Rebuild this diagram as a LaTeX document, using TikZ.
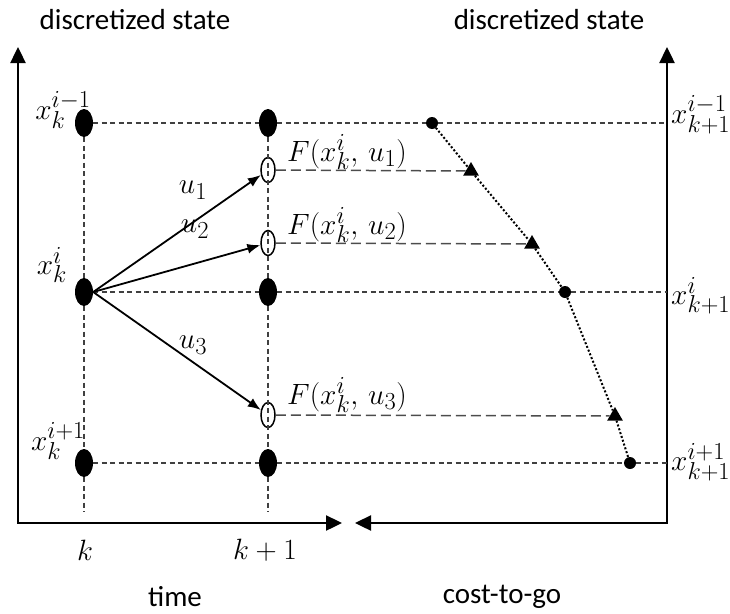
\documentclass[tikz,border=0pt]{standalone}
\usepackage{fontspec}
\setmainfont{Carlito}
\usetikzlibrary{arrows.meta,shapes.geometric}
\newcommand{\mathlbl}[1]{\scalebox{1.18}{$#1$}}
\begin{document}
\begin{tikzpicture}[x=1pt,y=-1pt,
  tlab/.style={font=\fontsize{29}{34}\selectfont, inner sep=0pt},
  mlab/.style={font=\fontsize{24.88}{30}\selectfont, inner sep=0pt},
  fullpt/.style={ellipse, fill=black, minimum width=18pt, minimum height=28pt, inner sep=0pt},
  openpt/.style={ellipse, draw=black, line width=1.5pt, minimum width=14pt, minimum height=25pt, inner sep=0pt},
  costpt/.style={circle, fill=black, minimum size=12pt, inner sep=0pt},
  tripoint/.style={regular polygon, regular polygon sides=3, fill=black, minimum size=18pt, inner sep=0pt},
  axisline/.style={line width=2.4pt, {Triangle[length=16pt,width=15pt]}-{Triangle[length=16pt,width=15pt]}},
  grid/.style={dash pattern=on 5pt off 3.5pt, line width=1.2pt, black!75},
  fline/.style={dash pattern=on 10pt off 5pt, line width=1.5pt, black!70},
  ctg/.style={line width=2pt, dash pattern=on 2pt off 2pt},
  uarrow/.style={line width=1.8pt, -{Latex[length=13pt,width=10pt]}}
]
\useasboundingbox (0,0) rectangle (730,613);
% axes coordinates
\coordinate (LT) at (18,47);
\coordinate (LO) at (18,523);
\coordinate (XT) at (342,523);
\coordinate (RT) at (667,47);
\coordinate (RO) at (667,523);
\coordinate (XT2) at (355,523);
\draw[axisline] (LT) -- (LO) -- (XT);
\draw[axisline] (RT) -- (RO) -- (XT2);
% grid points
\node[fullpt] (A1) at (84,123) {};
\node[fullpt] (A2) at (84,292) {};
\node[fullpt] (A3) at (84,463) {};
\node[fullpt] (B1) at (268,123) {};
\node[fullpt] (B2) at (268,292) {};
\node[fullpt] (B3) at (268,463) {};
\node[openpt] (O1) at (268,170) {};
\node[openpt] (O2) at (268,243) {};
\node[openpt] (O3) at (268,415) {};
\node[costpt] (D1) at (432,123) {};
\node[costpt] (D2) at (565,292) {};
\node[costpt] (D3) at (630,463) {};
\node[tripoint] (T1) at (471,171) {};
\node[tripoint] (T2) at (532,244) {};
\node[tripoint] (T3) at (615,416) {};
\coordinate (AB) at (84,512);
\coordinate (BB) at (268,512);
\coordinate (R1) at (667,123);
\coordinate (R2) at (667,292);
\coordinate (R3) at (667,463);
% vertical grid lines
\draw[grid] (A1) -- (A2);
\draw[grid] (A2) -- (A3);
\draw[grid] (A3) -- (AB);
\draw[grid] (B1) -- (B2);
\draw[grid] (B2) -- (B3);
\draw[grid] (B3) -- (BB);
% horizontal grid lines
\draw[grid] (A1) -- (B1);
\draw[grid] (B1) -- (D1);
\draw[grid] (D1) -- (R1);
\draw[grid] (A2) -- (B2);
\draw[grid] (B2) -- (D2);
\draw[grid] (D2) -- (R2);
\draw[grid] (A3) -- (B3);
\draw[grid] (B3) -- (D3);
\draw[grid] (D3) -- (R3);
% F lines
\draw[fline] (O1) -- (T1);
\draw[fline] (O2) -- (T2);
\draw[fline] (O3) -- (T3);
% cost-to-go curve
\draw[ctg] (D1) -- (T1) -- (T2) -- (D2) -- (T3) -- (D3);
% control arrows
\draw[uarrow] (A2.east) -- (O1);
\draw[uarrow] (A2.east) -- (O2);
\draw[uarrow] (A2.east) -- (O3);
% labels
\node[mlab] (u1) at (193,190) {\mathlbl{u_1}};
\node[mlab] (u2) at (195,229) {\mathlbl{u_2}};
\node[mlab] (u3) at (193,345) {\mathlbl{u_3}};
\node[mlab, anchor=base west] (F1) at (287,161) {\mathlbl{F(x_k^i,\,u_1)}};
\node[mlab, anchor=base west] (F2) at (287,234) {\mathlbl{F(x_k^i,\,u_2)}};
\node[mlab, anchor=base west] (F3) at (287,404) {\mathlbl{F(x_k^i,\,u_3)}};
\node[mlab] (L1) at (63,110) {\mathlbl{x_k^{i-1}}};
\node[mlab] (L2) at (52,265) {\mathlbl{x_k^{i}}};
\node[mlab] (L3) at (58,441) {\mathlbl{x_k^{i+1}}};
\node[mlab, anchor=west] (RL1) at (671,115) {\mathlbl{x_{k+1}^{i-1}}};
\node[mlab, anchor=west] (RL2) at (671,296) {\mathlbl{x_{k+1}^{i}}};
\node[mlab, anchor=west] (RL3) at (671,462) {\mathlbl{x_{k+1}^{i+1}}};
\node[mlab] (K0) at (85,550) {\mathlbl{k}};
\node[mlab] (K1) at (265,550) {\mathlbl{k+1}};
\node[tlab] (ds1) at (135,20) {discretized state};
\node[tlab] (ds2) at (549,20) {discretized state};
\node[tlab] (tm) at (175,597) {time};
\node[tlab] (cg) at (502,597) {cost-to-go};
\end{tikzpicture}
\end{document}
